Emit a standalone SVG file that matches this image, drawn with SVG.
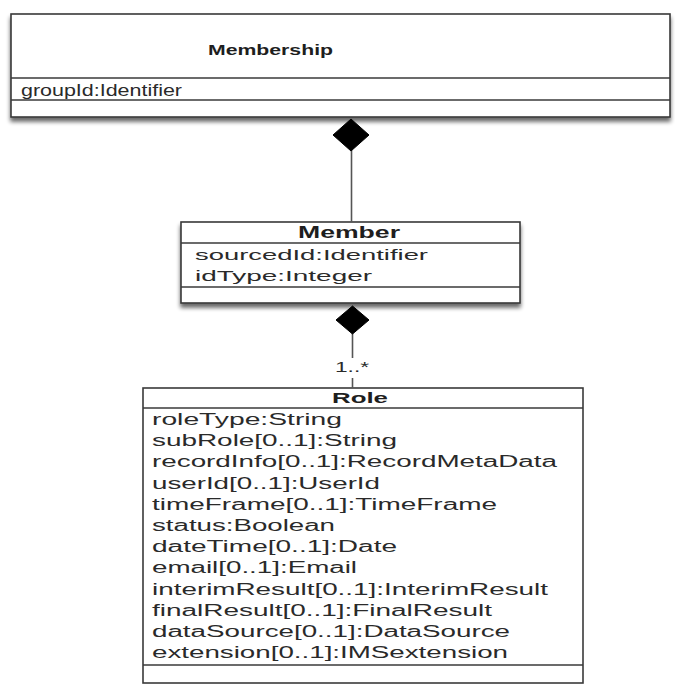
<svg xmlns="http://www.w3.org/2000/svg" width="675" height="685" viewBox="0 0 675 685">
  <defs>
    <filter id="shadow" x="-5%" y="-5%" width="110%" height="120%">
      <feGaussianBlur in="SourceAlpha" stdDeviation="2"/>
      <feOffset dx="0" dy="4" result="b"/>
      <feComponentTransfer><feFuncA type="linear" slope="0.6"/></feComponentTransfer>
      <feMerge><feMergeNode/><feMergeNode in="SourceGraphic"/></feMerge>
    </filter>
  </defs>
  <style>
    .box { fill: #ffffff; stroke: #3a3a3a; stroke-width: 1.6; }
    .div { stroke: #3a3a3a; stroke-width: 1.6; }
    .title { font-family: "Liberation Sans", Arial, sans-serif; font-weight: bold; fill: #1e1e1e; }
    .attr { font-family: "Liberation Sans", Arial, sans-serif; fill: #2a2a2a; }
    .conn { stroke: #555; stroke-width: 1.6; fill: none; }
    .diamond { fill: #000; stroke: #000; stroke-width: 1; }
  </style>
  <rect width="675" height="685" fill="#ffffff"/>

  <g id="Membership">
    <rect class="box" x="11" y="14" width="659" height="103" filter="url(#shadow)"/>
    <line class="div" x1="11" y1="78" x2="670" y2="78"/>
    <line class="div" x1="11" y1="100" x2="670" y2="100"/>
    <text class="title" x="270.5" y="55" font-size="15" text-anchor="middle" textLength="125" lengthAdjust="spacingAndGlyphs">Membership</text>
    <text class="attr" x="21" y="96" font-size="16" textLength="161" lengthAdjust="spacingAndGlyphs">groupId:Identifier</text>
  </g>

  <g id="Member">
    <rect class="box" x="181" y="222" width="339" height="81" filter="url(#shadow)"/>
    <line class="div" x1="181" y1="243" x2="520" y2="243"/>
    <line class="div" x1="181" y1="287" x2="520" y2="287"/>
    <text class="title" x="349" y="238" font-size="16" text-anchor="middle" textLength="102" lengthAdjust="spacingAndGlyphs">Member</text>
    <text class="attr" x="195" y="260" font-size="15" textLength="233" lengthAdjust="spacingAndGlyphs">sourcedId:Identifier</text>
    <text class="attr" x="195" y="281" font-size="15" textLength="177" lengthAdjust="spacingAndGlyphs">idType:Integer</text>
  </g>

  <g id="Role">
    <rect class="box" x="143" y="388" width="440" height="295"/>
    <line class="div" x1="143" y1="408" x2="583" y2="408"/>
    <line class="div" x1="143" y1="665" x2="583" y2="665"/>
    <text class="title" x="360" y="403" font-size="15" text-anchor="middle" textLength="56" lengthAdjust="spacingAndGlyphs">Role</text>
    <text class="attr" x="152" y="425" font-size="16" textLength="190" lengthAdjust="spacingAndGlyphs">roleType:String</text>
    <text class="attr" x="152" y="446.2" font-size="16" textLength="245" lengthAdjust="spacingAndGlyphs">subRole[0..1]:String</text>
    <text class="attr" x="152" y="467.4" font-size="16" textLength="405" lengthAdjust="spacingAndGlyphs">recordInfo[0..1]:RecordMetaData</text>
    <text class="attr" x="152" y="488.6" font-size="16" textLength="228" lengthAdjust="spacingAndGlyphs">userId[0..1]:UserId</text>
    <text class="attr" x="152" y="509.8" font-size="16" textLength="345" lengthAdjust="spacingAndGlyphs">timeFrame[0..1]:TimeFrame</text>
    <text class="attr" x="152" y="531" font-size="16" textLength="183" lengthAdjust="spacingAndGlyphs">status:Boolean</text>
    <text class="attr" x="152" y="552.2" font-size="16" textLength="245" lengthAdjust="spacingAndGlyphs">dateTime[0..1]:Date</text>
    <text class="attr" x="152" y="573.4" font-size="16" textLength="205" lengthAdjust="spacingAndGlyphs">email[0..1]:Email</text>
    <text class="attr" x="152" y="594.6" font-size="16" textLength="396" lengthAdjust="spacingAndGlyphs">interimResult[0..1]:InterimResult</text>
    <text class="attr" x="152" y="615.8" font-size="16" textLength="340" lengthAdjust="spacingAndGlyphs">finalResult[0..1]:FinalResult</text>
    <text class="attr" x="152" y="637" font-size="16" textLength="358" lengthAdjust="spacingAndGlyphs">dataSource[0..1]:DataSource</text>
    <text class="attr" x="152" y="658.2" font-size="16" textLength="356" lengthAdjust="spacingAndGlyphs">extension[0..1]:IMSextension</text>
  </g>

  <g id="connectors">
    <line class="conn" x1="351.5" y1="150" x2="351.5" y2="222"/>
    <polygon class="diamond" points="351,119 369,135 351,151 333,135"/>
    <line class="conn" x1="352.5" y1="333" x2="352.5" y2="358"/>
    <line class="conn" x1="352.5" y1="378" x2="352.5" y2="388"/>
    <polygon class="diamond" points="352.5,306 369,320 352.5,334 336,320"/>
    <text class="attr" x="335" y="372" font-size="15" textLength="34" lengthAdjust="spacingAndGlyphs">1..*</text>
  </g>
</svg>
